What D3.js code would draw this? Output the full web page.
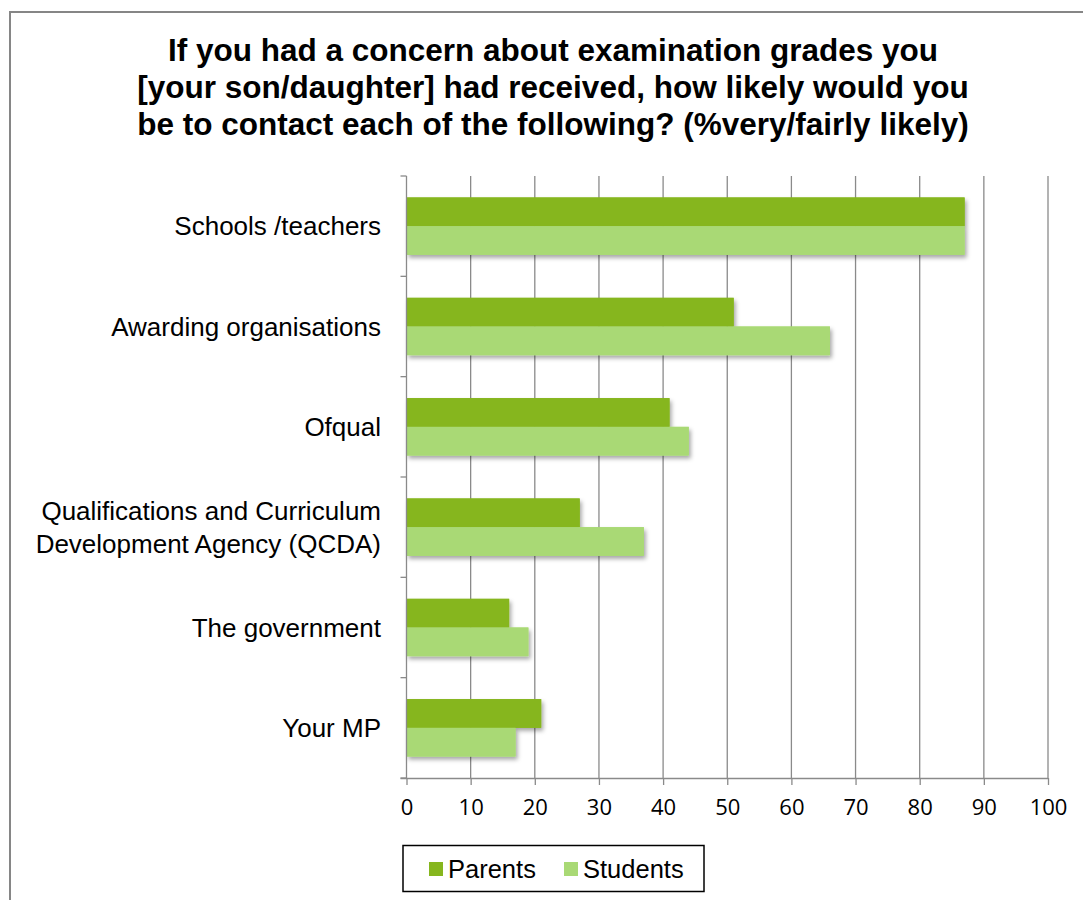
<!DOCTYPE html>
<html>
<head>
<meta charset="utf-8">
<script src="https://cdn.jsdelivr.net/npm/d3@7"></script>
<style>
  html, body { margin: 0; padding: 0; background: #fff; }
  svg { display: block; }
</style>
</head>
<body>
<svg id="chart" width="1083" height="900"></svg>
<script>
const titleLines = [
  "If you had a concern about examination grades you",
  "[your son/daughter] had received, how likely would you",
  "be to contact each of the following? (%very/fairly likely)"
];
const categories = [
  ["Schools /teachers"],
  ["Awarding organisations"],
  ["Ofqual"],
  ["Qualifications and Curriculum", "Development Agency (QCDA)"],
  ["The government"],
  ["Your MP"]
];
const seriesNames = ["Parents", "Students"];
const parents  = [87, 51, 41, 27, 16, 21];
const students = [87, 66, 44, 37, 19, 17];
const xTicks = [0, 10, 20, 30, 40, 50, 60, 70, 80, 90, 100];
const colors = ["#86B61E", "#A9D975"];

const svg = d3.select("#chart");
const m = { left: 406.5, right: 1048, top: 176, bottom: 778 };

// frame
svg.append("rect").attr("x", 10).attr("y", 12).attr("width", 1090).attr("height", 920)
  .attr("fill", "#fff").attr("stroke", "#868686").attr("stroke-width", 2);

// shadow filter
const defs = svg.append("defs");
const f = defs.append("filter").attr("id", "sh").attr("x", "-5%").attr("y", "-20%").attr("width", "115%").attr("height", "160%");
f.append("feDropShadow").attr("dx", 2).attr("dy", 3).attr("stdDeviation", 2)
  .attr("flood-color", "#000").attr("flood-opacity", 0.35);

// title
const title = svg.append("text").attr("text-anchor", "middle")
  .attr("font-family", "Liberation Sans, Arial, sans-serif").attr("font-weight", "bold")
  .attr("font-size", 31.5).attr("fill", "#000");
titleLines.forEach((t, i) => {
  title.append("tspan").attr("x", 553).attr("y", 61 + i * 37).text(t);
});

const keys = categories.map((c, i) => i);
const x = d3.scaleLinear().domain([0, 100]).range([m.left, m.right]);
const y = d3.scaleBand().domain(keys).range([m.top, m.bottom]).paddingInner(0.428).paddingOuter(0.214);
const ySub = d3.scaleBand().domain(seriesNames).range([0, y.bandwidth()]);
const yEdge = d3.scaleLinear().domain([0, categories.length]).range([m.top, m.bottom]);

// gridlines
svg.append("g").selectAll("line").data(xTicks.slice(1)).join("line")
  .attr("x1", d => x(d)).attr("x2", d => x(d))
  .attr("y1", m.top).attr("y2", m.bottom)
  .attr("stroke", "#8a8a8a").attr("stroke-width", 1.3);

// bars
const data = keys.map(i => ({ i, vals: [parents[i], students[i]] }));
const groups = svg.append("g").selectAll("g").data(data).join("g")
  .attr("transform", d => `translate(0,${y(d.i)})`);
groups.selectAll("rect.s").data(d => d.vals.map((v, k) => ({ v, k }))).join("rect")
  .attr("class", "s")
  .attr("x", x(0)).attr("y", d => ySub(seriesNames[d.k]))
  .attr("width", d => x(d.v) - x(0)).attr("height", ySub.bandwidth())
  .attr("fill", d => colors[d.k]).attr("filter", "url(#sh)");
groups.selectAll("rect.top").data(d => d.vals.map((v, k) => ({ v, k }))).join("rect")
  .attr("class", "top")
  .attr("x", x(0)).attr("y", d => ySub(seriesNames[d.k]))
  .attr("width", d => x(d.v) - x(0)).attr("height", ySub.bandwidth())
  .attr("fill", d => colors[d.k]);

// left axis
const yAxis = svg.append("g");
yAxis.append("line").attr("x1", m.left).attr("x2", m.left).attr("y1", m.top).attr("y2", m.bottom)
  .attr("stroke", "#8a8a8a").attr("stroke-width", 1.3);
yAxis.selectAll("line.t").data(d3.range(categories.length + 1)).join("line").attr("class", "t")
  .attr("x1", m.left - 6).attr("x2", m.left)
  .attr("y1", d => yEdge(d)).attr("y2", d => yEdge(d))
  .attr("stroke", "#8a8a8a").attr("stroke-width", 1.3);

// category labels
const lab = svg.append("g").selectAll("text").data(keys).join("text")
  .attr("text-anchor", "end")
  .attr("font-family", "Liberation Sans, Arial, sans-serif").attr("font-size", 26)
  .attr("fill", "#000");
lab.each(function(i) {
  const lines = categories[i];
  const cy = y(i) + y.bandwidth() / 2;
  const lh = 33;
  lines.forEach((t, j) => {
    d3.select(this).append("tspan").attr("x", 381)
      .attr("y", cy + 9 + (j - (lines.length - 1) / 2) * lh).text(t);
  });
});

// bottom axis
const xAxis = d3.axisBottom(x).tickValues(xTicks).tickSize(7).tickPadding(14);
const gx = svg.append("g").attr("transform", `translate(0,${m.bottom})`).call(xAxis);
gx.select(".domain").attr("stroke", "#8a8a8a").attr("stroke-width", 1.3)
  .attr("d", `M${m.left - 6},0.5H${m.right}`);
gx.selectAll(".tick line").attr("stroke", "#8a8a8a").attr("stroke-width", 1.3);
gx.selectAll(".tick text").attr("font-family", "Open Sans, Liberation Sans, sans-serif")
  .attr("font-size", 22).attr("fill", "#000");

// legend
const lg = svg.append("g");
lg.append("rect").attr("x", 403).attr("y", 845.5).attr("width", 301).attr("height", 46)
  .attr("fill", "#fff").attr("stroke", "#000").attr("stroke-width", 1.5);
const legX = [429, 564];
seriesNames.forEach((n, k) => {
  lg.append("rect").attr("x", legX[k]).attr("y", 862).attr("width", 14).attr("height", 14).attr("fill", colors[k]);
  lg.append("text").attr("x", legX[k] + 19).attr("y", 878)
    .attr("font-family", "Liberation Sans, Arial, sans-serif").attr("font-size", 25.5)
    .attr("fill", "#000").text(n);
});
</script>
</body>
</html>
